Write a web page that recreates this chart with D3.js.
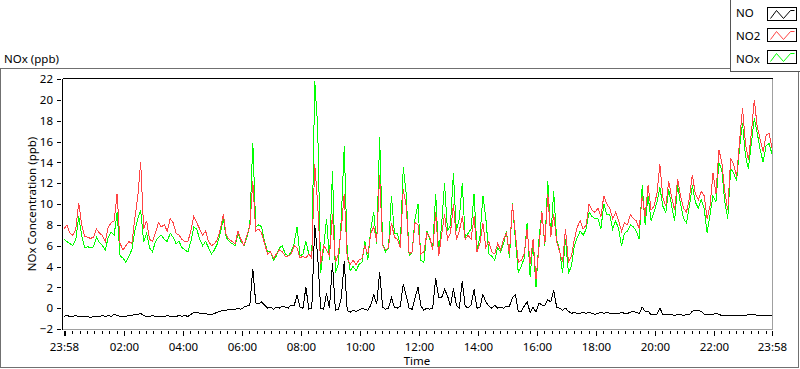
<!DOCTYPE html>
<html>
<head>
<meta charset="utf-8">
<script src="https://cdn.jsdelivr.net/npm/d3@7"></script>
<style>
  body { margin: 0; background: #fff; }
  svg text { font-family: "Noto Sans", "Open Sans", sans-serif; font-size: 11.5px; fill: #000; }
</style>
</head>
<body>
<script>
// samples every 6 minutes, starting at 23:58 of the previous day (-2 min)
const startMinute = -2;
const stepMinutes = 6;

const noValues = [
  -0.8, -0.7, -0.8, -0.8, -0.7, -0.8, -0.8, -0.8, -0.8, -0.9, -0.8, -0.8, -0.8, -0.7, -0.8, -0.7,
  -0.8, -0.6, -0.7, -0.8, -0.8, -0.8, -0.7, -0.7, -0.6, -0.6, -0.5, -0.7, -0.8, -0.8, -0.7, -0.8,
  -0.8, -0.8, -0.8, -0.7, -0.8, -0.8, -0.8, -0.7, -0.8, -0.7, -0.8, -0.6, -0.4, -0.4, -0.5, -0.5,
  -0.5, -0.6, -0.6, -0.5, -0.4, -0.3, -0.2, -0.2, -0.1, -0.1, -0.1, 0.0, -0.1, 0.1, 0.2, 0.3,
  3.8, 0.5, 0.4, 0.6, 0.3, 0.0, 0.1, -0.1, 0.1, 0.0, 0.2, 0.1, 0.0, 0.3, 0.2, 1.3,
  0.1, 0.0, 2.0, -0.1, 0.0, 8.0, 5.0, 0.0, -0.1, 1.4, 0.0, 4.3, -0.2, -0.1, 1.0, 4.5,
  -0.2, -0.4, -0.2, -0.3, -0.2, 0.0, -0.1, -0.2, 0.3, 1.3, 0.4, 3.5, 0.1, -0.1, 0.0, 1.0,
  0.1, 0.0, 0.2, 2.3, 1.2, 0.0, -0.1, 1.0, 2.0, 0.2, -0.2, 0.0, -0.1, 0.0, 2.9, 1.0,
  1.0, 1.8, 1.2, 0.2, 1.9, 0.3, 0.0, 2.6, 0.2, 0.0, 0.3, 1.8, 0.0, 0.1, 1.3, 0.6,
  0.2, 0.0, 0.3, 0.0, 0.1, 0.0, 0.2, 0.2, 1.0, 1.3, -0.3, -0.3, 0.2, 0.6, -0.4, 0.1,
  -0.4, 0.5, 0.3, 0.3, 0.8, 0.6, 1.7, 0.1, 0.0, -0.2, 0.0, -0.3, -0.5, -0.4, -0.5, -0.5,
  -0.4, -0.5, -0.4, -0.5, -0.6, -0.5, -0.4, -0.5, -0.4, -0.5, -0.5, -0.5, -0.5, -0.4, -0.5, -0.5,
  -0.4, -0.3, -0.4, -0.5, 0.1, -0.3, -0.3, -0.6, -0.6, -0.6, 0.0, -0.6, -0.6, -0.6, -0.6, -0.7,
  -0.6, -0.6, -0.7, -0.6, -0.6, -0.3, -0.2, -0.2, -0.3, -0.6, -0.6, -0.6, -0.6, -0.5, -0.6, -0.7,
  -0.7, -0.7, -0.7, -0.7, -0.7, -0.7, -0.7, -0.7, -0.6, -0.6, -0.6, -0.7, -0.7, -0.7, -0.7, -0.7,
  -0.7
];

const no2Values = [
  7.6, 8.0, 7.2, 7.0, 7.6, 10.1, 8.0, 6.9, 6.8, 6.7, 6.8, 7.6, 7.2, 7.0, 6.4, 7.8,
  8.2, 8.4, 11.0, 6.2, 5.6, 6.0, 6.4, 6.2, 8.6, 10.7, 14.0, 7.6, 8.4, 6.6, 6.4, 7.2,
  8.2, 7.8, 8.0, 7.4, 8.6, 8.2, 7.2, 7.0, 6.6, 6.4, 6.4, 7.4, 8.8, 8.2, 7.6, 7.0,
  7.4, 6.4, 6.0, 6.2, 6.6, 7.6, 9.0, 7.0, 6.6, 6.4, 6.2, 7.4, 6.6, 6.0, 7.0, 7.8,
  12.2, 7.4, 7.6, 7.2, 6.2, 5.2, 5.4, 4.8, 5.2, 5.6, 5.4, 5.0, 5.0, 5.2, 6.0, 5.8,
  4.8, 5.0, 4.8, 5.2, 4.8, 13.8, 10.0, 4.2, 6.0, 5.6, 5.0, 9.0, 4.4, 5.2, 7.6, 11.0,
  4.8, 4.2, 4.6, 4.2, 4.6, 4.8, 6.0, 5.2, 7.2, 7.8, 6.4, 12.8, 6.0, 5.6, 5.8, 8.2,
  6.8, 6.6, 5.8, 11.4, 9.8, 5.2, 5.4, 8.2, 8.0, 5.2, 5.4, 7.2, 6.8, 5.6, 9.2, 5.0,
  7.0, 9.0, 6.6, 7.2, 10.0, 6.6, 7.4, 8.8, 6.6, 7.0, 6.6, 8.8, 5.4, 6.2, 8.2, 5.8,
  6.4, 5.4, 5.2, 6.2, 5.6, 6.6, 7.2, 5.2, 10.0, 7.2, 4.4, 4.6, 5.2, 7.6, 4.2, 6.6,
  2.8, 5.8, 9.2, 6.2, 11.0, 6.8, 9.0, 6.4, 5.4, 4.4, 7.6, 4.4, 5.0, 6.6, 7.8, 8.4,
  7.6, 8.0, 10.0, 9.4, 9.2, 9.6, 8.8, 10.8, 10.0, 9.6, 8.6, 9.2, 8.4, 7.4, 8.2, 8.0,
  9.0, 8.6, 8.4, 7.6, 10.8, 8.8, 11.8, 9.4, 9.8, 11.0, 13.8, 10.6, 9.8, 12.2, 10.6, 9.4,
  12.4, 10.8, 9.6, 9.2, 10.6, 12.8, 11.0, 10.4, 11.2, 10.8, 8.6, 9.8, 13.0, 11.0, 15.2, 14.0,
  11.2, 9.4, 14.4, 13.8, 12.6, 16.0, 19.2, 15.8, 14.2, 16.8, 20.0, 17.4, 16.2, 15.0, 16.6, 16.8,
  15.4
];

const noxValues = [
  6.6, 6.4, 6.2, 6.0, 6.6, 8.8, 7.0, 5.8, 5.9, 5.8, 5.9, 6.8, 6.3, 6.0, 5.6, 6.8,
  7.3, 7.0, 9.2, 5.0, 4.8, 4.4, 5.0, 5.6, 7.4, 8.6, 9.4, 6.4, 7.2, 5.8, 5.4, 6.4,
  6.8, 7.0, 6.6, 6.4, 7.2, 6.8, 6.2, 6.4, 5.8, 5.6, 5.4, 6.4, 7.8, 7.6, 6.6, 6.0,
  6.4, 5.8, 5.2, 5.6, 6.2, 7.2, 8.6, 6.8, 6.4, 6.2, 6.0, 7.2, 6.4, 6.0, 6.8, 8.0,
  15.9, 7.8, 8.0, 7.8, 6.4, 5.4, 5.4, 4.6, 5.0, 5.8, 6.0, 5.2, 5.0, 5.4, 6.2, 7.8,
  5.0, 5.2, 6.4, 5.2, 4.8, 21.8, 17.4, 3.4, 5.8, 8.6, 4.6, 13.2, 3.4, 4.2, 8.6, 15.6,
  5.4, 3.6, 4.0, 3.6, 4.2, 4.4, 6.4, 4.6, 7.6, 9.2, 6.2, 16.4, 6.2, 5.4, 5.8, 10.8,
  7.2, 7.2, 6.0, 13.5, 11.0, 5.0, 5.4, 8.6, 10.0, 4.6, 4.4, 7.4, 6.6, 5.8, 11.0, 5.2,
  8.0, 12.0, 7.4, 8.0, 13.0, 7.4, 8.6, 12.0, 6.8, 7.2, 7.6, 11.0, 5.6, 6.8, 10.8, 8.6,
  5.2, 5.0, 4.6, 5.8, 5.4, 6.2, 7.4, 4.8, 10.1, 6.6, 3.4, 4.0, 4.8, 8.2, 3.0, 6.4,
  2.0, 6.6, 9.3, 6.0, 12.2, 6.8, 11.2, 6.6, 5.6, 3.4, 6.6, 3.4, 4.0, 6.0, 6.8, 7.4,
  7.0, 7.6, 9.2, 8.8, 8.6, 8.6, 7.6, 10.0, 9.0, 9.0, 7.6, 8.4, 7.6, 6.0, 7.2, 7.4,
  8.0, 7.8, 7.4, 6.6, 11.8, 8.0, 10.8, 8.4, 9.2, 10.2, 11.6, 9.8, 9.2, 11.4, 9.8, 8.4,
  11.8, 10.0, 8.6, 8.2, 9.8, 11.8, 10.2, 9.6, 10.4, 9.6, 7.2, 9.0, 10.8, 10.2, 14.0, 13.2,
  10.2, 8.6, 13.4, 13.0, 12.2, 15.4, 17.8, 14.6, 13.4, 15.8, 18.2, 16.8, 15.2, 14.0, 15.6, 15.8,
  14.8
];

const yTicks = [-2, 0, 2, 4, 6, 8, 10, 12, 14, 16, 18, 20, 22];
const xTickMinutes = [-2, 120, 240, 360, 480, 600, 720, 840, 960, 1080, 1200, 1320, 1438];
const xTickLabels = ["23:58", "02:00", "04:00", "06:00", "08:00", "10:00", "12:00",
                     "14:00", "16:00", "18:00", "20:00", "22:00", "23:58"];
const seriesNames = ["NO", "NO2", "NOx"];
const seriesColors = ["#000000", "#ff4444", "#00ff00"];

const width = 800, height = 369;
const plot = {left: 62, top: 78, right: 772, bottom: 329};

const svg = d3.select("body").append("svg")
    .attr("width", width)
    .attr("height", height);

// outer frame of the graph
svg.append("rect")
    .attr("x", 0.5).attr("y", 68.5)
    .attr("width", 798).attr("height", 299)
    .attr("fill", "none")
    .attr("stroke", "#707070");

const x = d3.scaleLinear().domain([-2, 1438]).range([64, 772]);
const y = d3.scaleLinear().domain([-2, 22]).range([329, 79]);

// plot area border: dark on top/left, grey on bottom/right
const border = svg.append("g").attr("shape-rendering", "crispEdges");
border.append("line").attr("x1", plot.left + 0.5).attr("x2", plot.right + 0.5)
    .attr("y1", plot.top + 0.5).attr("y2", plot.top + 0.5).attr("stroke", "#000");
border.append("line").attr("x1", plot.left + 0.5).attr("x2", plot.left + 0.5)
    .attr("y1", plot.top + 0.5).attr("y2", plot.bottom + 0.5).attr("stroke", "#000");
border.append("line").attr("x1", plot.right + 0.5).attr("x2", plot.right + 0.5)
    .attr("y1", plot.top + 0.5).attr("y2", plot.bottom + 0.5).attr("stroke", "#a0a0a0");
border.append("line").attr("x1", plot.left + 0.5).attr("x2", plot.right + 0.5)
    .attr("y1", plot.bottom + 0.5).attr("y2", plot.bottom + 0.5).attr("stroke", "#a0a0a0");

// y axis
const yAxis = svg.append("g")
    .attr("transform", "translate(61,0)")
    .call(d3.axisLeft(y).tickValues(yTicks).tickSize(4).tickPadding(4));
yAxis.select(".domain").remove();
yAxis.selectAll("line").attr("shape-rendering", "crispEdges");
yAxis.selectAll("text").style("font-family", null).style("font-size", null).attr("fill", "#000");

// x axis minor ticks every 15 minutes
const minorTicks = d3.range(0, 1438, 15).filter(m => m % 120 !== 0);
const xMinor = svg.append("g")
    .attr("transform", "translate(0,331)")
    .call(d3.axisBottom(x).tickValues(minorTicks).tickSize(3).tickFormat(""));
xMinor.select(".domain").remove();
xMinor.selectAll("line").attr("shape-rendering", "crispEdges");

const xAxis = svg.append("g")
    .attr("transform", "translate(0,331)")
    .call(d3.axisBottom(x).tickValues(xTickMinutes).tickSize(5).tickPadding(7)
        .tickFormat((d, i) => xTickLabels[i]));
xAxis.select(".domain").remove();
xAxis.selectAll("line").attr("shape-rendering", "crispEdges");
// extra tick at 00:00 next to the first 23:58
xAxis.append("line").attr("x1", Math.round(x(0)) + 0.5).attr("x2", Math.round(x(0)) + 0.5)
    .attr("y1", 0).attr("y2", 5).attr("stroke", "#000").attr("shape-rendering", "crispEdges");
xAxis.selectAll("text").attr("fill", "#000");

// labels
svg.append("text").attr("x", 4).attr("y", 63).text("NOx (ppb)");
svg.append("text").attr("x", 417).attr("y", 365).attr("text-anchor", "middle").text("Time");
svg.append("text")
    .attr("transform", "translate(36,204) rotate(-90)")
    .attr("text-anchor", "middle")
    .text("NOx Concentration (ppb)");

// series, NOx first so that NO2 and NO are drawn over it
const line = d3.line()
    .x((d, i) => x(startMinute + i * stepMinutes))
    .y(d => y(d));

const drawOrder = [[noxValues, seriesColors[2]], [no2Values, seriesColors[1]], [noValues, seriesColors[0]]];
svg.append("g").selectAll("path")
    .data(drawOrder)
    .join("path")
    .attr("d", d => line(d[0]))
    .attr("fill", "none")
    .attr("stroke", d => d[1])
    .attr("stroke-width", 1)
    .attr("shape-rendering", "crispEdges");

// legend
const legend = svg.append("g");
legend.append("rect")
    .attr("x", 730.5).attr("y", -1)
    .attr("width", 80).attr("height", 72.5)
    .attr("fill", "#fff").attr("stroke", "#555");

const legendY = [17, 39.5, 63];
const swatchY = [7.5, 28.5, 50.5];
seriesNames.forEach((name, i) => {
    legend.append("text").attr("x", 736).attr("y", legendY[i]).text(name);
    legend.append("rect")
        .attr("x", 767.5).attr("y", swatchY[i])
        .attr("width", 29).attr("height", 13)
        .attr("fill", "#fff").attr("stroke", "#000");
    const zig = [[3, 11], [9, 3], [16, 11], [23, 3], [27, 3]]
        .map(p => [767.5 + p[0], swatchY[i] + p[1]]);
    legend.append("path")
        .attr("d", d3.line()(zig))
        .attr("fill", "none")
        .attr("stroke", seriesColors[i]);
});
</script>
</body>
</html>
